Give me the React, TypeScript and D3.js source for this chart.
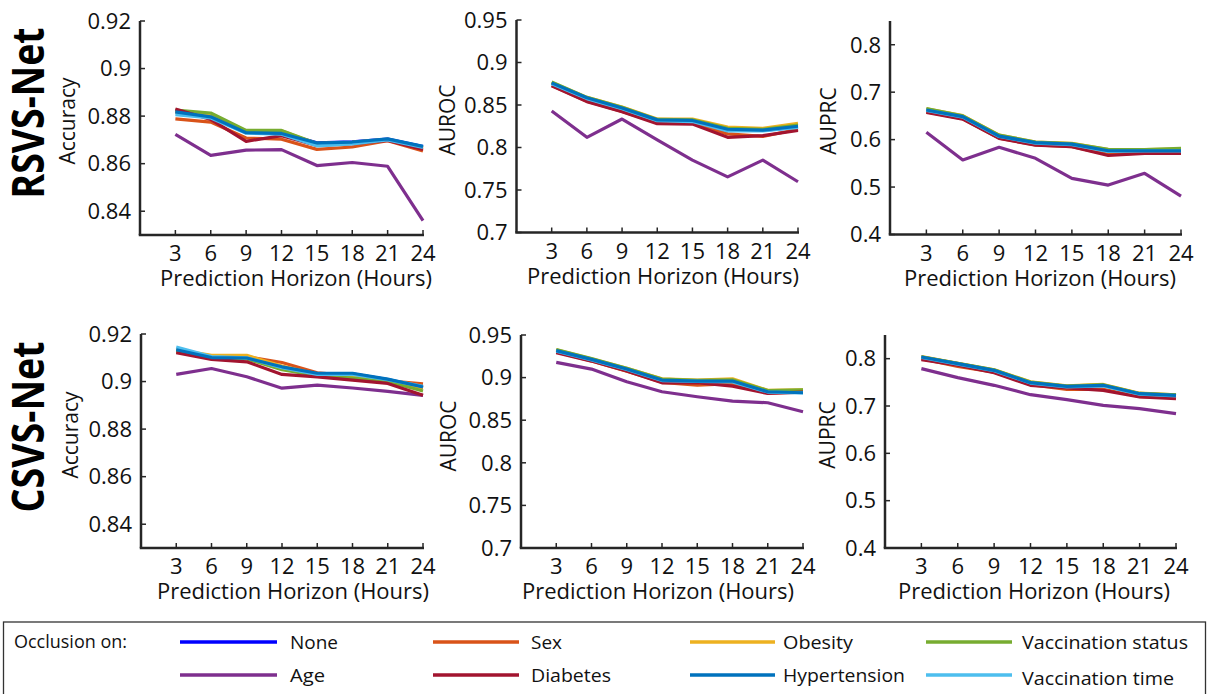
import React from "react";
import * as d3 from "d3";

// prediction horizons (hours)
const hours = [3, 6, 9, 12, 15, 18, 21, 24];

const occlusions = [
  "None",
  "Sex",
  "Obesity",
  "Vaccination status",
  "Age",
  "Diabetes",
  "Hypertension",
  "Vaccination time",
];
const colors = ["#0000ff", "#d95319", "#edb120", "#77ac30", "#7e2f8e", "#a2142f", "#0072bd", "#4dbeee"];
// hypertension ends up on top, like in the figure
const drawOrder = [0, 1, 2, 3, 4, 5, 7, 6];

// rows follow the occlusions order above
const rsvsAccuracy = [
  [0.882, 0.88, 0.8733, 0.873, 0.8688, 0.8692, 0.8703, 0.8672],
  [0.8788, 0.8775, 0.8708, 0.8703, 0.866, 0.867, 0.8697, 0.8653],
  [0.8815, 0.8805, 0.8738, 0.8738, 0.8683, 0.869, 0.8702, 0.8668],
  [0.8825, 0.8813, 0.874, 0.874, 0.8685, 0.869, 0.8701, 0.8667],
  [0.8723, 0.8635, 0.8657, 0.8659, 0.8592, 0.8605, 0.8589, 0.836],
  [0.883, 0.8786, 0.8694, 0.8718, 0.8677, 0.8684, 0.8698, 0.866],
  [0.8818, 0.8797, 0.873, 0.8727, 0.8687, 0.8691, 0.8704, 0.8673],
  [0.8806, 0.8792, 0.8728, 0.8724, 0.8675, 0.8683, 0.87, 0.8668],
];
const rsvsAuroc = [
  [0.8755, 0.858, 0.8462, 0.8322, 0.831, 0.8205, 0.82, 0.824],
  [0.873, 0.8545, 0.8425, 0.829, 0.8285, 0.816, 0.813, 0.8215],
  [0.8765, 0.859, 0.8475, 0.8335, 0.8335, 0.824, 0.8225, 0.8285],
  [0.877, 0.859, 0.8472, 0.833, 0.8325, 0.8225, 0.8215, 0.8265],
  [0.843, 0.812, 0.8335, 0.809, 0.7852, 0.7655, 0.7852, 0.7597],
  [0.8725, 0.854, 0.842, 0.828, 0.8275, 0.812, 0.814, 0.82],
  [0.876, 0.8585, 0.8465, 0.8325, 0.8318, 0.8215, 0.8205, 0.825],
  [0.875, 0.8575, 0.8455, 0.8315, 0.8305, 0.8195, 0.8195, 0.8235],
];
const rsvsAuprc = [
  [0.663, 0.649, 0.608, 0.5935, 0.5905, 0.577, 0.5765, 0.577],
  [0.6585, 0.644, 0.603, 0.589, 0.585, 0.569, 0.572, 0.572],
  [0.665, 0.6505, 0.6095, 0.595, 0.592, 0.579, 0.579, 0.58],
  [0.6655, 0.65, 0.6095, 0.5948, 0.5915, 0.5795, 0.579, 0.5815],
  [0.6155, 0.557, 0.5838, 0.5606, 0.5183, 0.5042, 0.5289, 0.481],
  [0.6575, 0.643, 0.6025, 0.5885, 0.585, 0.5665, 0.571, 0.571],
  [0.6625, 0.6485, 0.6075, 0.5935, 0.5905, 0.5765, 0.5765, 0.5765],
  [0.6615, 0.6475, 0.6065, 0.5925, 0.5895, 0.575, 0.576, 0.576],
];
const csvsAccuracy = [
  [0.9132, 0.91, 0.9098, 0.906, 0.9033, 0.9033, 0.9008, 0.8975],
  [0.9125, 0.9108, 0.9105, 0.908, 0.9037, 0.9025, 0.9003, 0.899],
  [0.9135, 0.911, 0.911, 0.9065, 0.903, 0.9022, 0.9005, 0.8972],
  [0.913, 0.9098, 0.9095, 0.905, 0.9025, 0.9015, 0.9, 0.896],
  [0.903, 0.9055, 0.902, 0.8972, 0.8985, 0.8973, 0.8959, 0.8942],
  [0.9121, 0.9093, 0.9083, 0.903, 0.902, 0.9006, 0.8992, 0.8942],
  [0.9134, 0.9101, 0.9099, 0.9062, 0.9035, 0.9035, 0.901, 0.8977],
  [0.9145, 0.9105, 0.91, 0.9058, 0.903, 0.903, 0.9008, 0.898],
];
const csvsAuroc = [
  [0.9318, 0.9215, 0.91, 0.8972, 0.896, 0.896, 0.8835, 0.8825],
  [0.93, 0.9195, 0.9075, 0.8945, 0.8912, 0.893, 0.882, 0.883],
  [0.9325, 0.922, 0.9108, 0.8985, 0.8972, 0.8985, 0.885, 0.8855],
  [0.933, 0.9225, 0.911, 0.8982, 0.8968, 0.8975, 0.8848, 0.8855],
  [0.9179, 0.91, 0.8951, 0.8834, 0.8775, 0.8724, 0.8705, 0.8599],
  [0.9292, 0.9194, 0.9077, 0.8939, 0.894, 0.89, 0.8814, 0.883],
  [0.9316, 0.9214, 0.91, 0.8971, 0.8959, 0.8959, 0.8834, 0.8822],
  [0.931, 0.9208, 0.9095, 0.8965, 0.8955, 0.895, 0.883, 0.882],
];
const csvsAuprc = [
  [0.8035, 0.7895, 0.7755, 0.7495, 0.7415, 0.7435, 0.726, 0.7225],
  [0.8, 0.7838, 0.7715, 0.745, 0.7352, 0.7355, 0.72, 0.718],
  [0.8045, 0.79, 0.7765, 0.751, 0.7425, 0.7455, 0.727, 0.7235],
  [0.804, 0.79, 0.7765, 0.7505, 0.742, 0.745, 0.7265, 0.7235],
  [0.7789, 0.7599, 0.7437, 0.7239, 0.7134, 0.7014, 0.6944, 0.6838],
  [0.7979, 0.786, 0.7704, 0.7437, 0.738, 0.7331, 0.719, 0.7155],
  [0.8035, 0.7894, 0.7754, 0.7493, 0.7415, 0.7437, 0.726, 0.7225],
  [0.8025, 0.7885, 0.7745, 0.7485, 0.7405, 0.7425, 0.725, 0.7215],
];

const accTicks = [0.84, 0.86, 0.88, 0.9, 0.92];
const aurocTicks = [0.7, 0.75, 0.8, 0.85, 0.9, 0.95];
const auprcTicks = [0.4, 0.5, 0.6, 0.7, 0.8];

const rowLabels = ["RSVS-Net", "CSVS-Net"];

const FONT = "'Open Sans', 'Noto Sans', sans-serif";
const AXIS = "#262626";

const panels = [
  { label: "Accuracy", data: rsvsAccuracy, domain: [0.83, 0.92], ticks: accTicks, x0: 140, x1: 423, top: 21, bot: 235, labX: 68, labY: 121, titleX: 296 },
  { label: "AUROC", data: rsvsAuroc, domain: [0.7, 0.95], ticks: aurocTicks, x0: 516.5, x1: 798, top: 20, bot: 232.5, labX: 448, labY: 120, titleX: 663 },
  { label: "AUPRC", data: rsvsAuprc, domain: [0.4, 0.85], ticks: auprcTicks, x0: 890, x1: 1181, top: 21, bot: 234.5, labX: 829, labY: 121, titleX: 1040 },
  { label: "Accuracy", data: csvsAccuracy, domain: [0.83, 0.92], ticks: accTicks, x0: 141, x1: 423, top: 334, bot: 548, labX: 71, labY: 435, titleX: 293 },
  { label: "AUROC", data: csvsAuroc, domain: [0.7, 0.95], ticks: aurocTicks, x0: 521, x1: 803, top: 335, bot: 548, labX: 449, labY: 436, titleX: 658 },
  { label: "AUPRC", data: csvsAuprc, domain: [0.4, 0.85], ticks: auprcTicks, x0: 885, x1: 1176, top: 335, bot: 548, labX: 828, labY: 435, titleX: 1034 },
];

const Panel = ({ p }) => {
  const x = d3.scaleLinear().domain([0, 24]).range([p.x0, p.x1]);
  const y = d3.scaleLinear().domain(p.domain).range([p.bot, p.top]);
  const line = d3
    .line<number>()
    .x((_, i) => x(hours[i]))
    .y((d) => y(d));

  return (
    <g>
      {drawOrder.map((k) => (
        <path
          key={k}
          d={line(p.data[k]) as string}
          fill="none"
          stroke={colors[k]}
          strokeWidth={3.2}
          strokeLinejoin="round"
        />
      ))}
      {/* axes */}
      <line x1={p.x0} x2={p.x0} y1={p.top} y2={p.bot} stroke={AXIS} strokeWidth={2.5} />
      <line x1={p.x0 - 1.25} x2={p.x1 + 1} y1={p.bot} y2={p.bot} stroke={AXIS} strokeWidth={2.5} />
      {p.ticks.map((t) => (
        <g key={t}>
          <line x1={p.x0} x2={p.x0 + 5} y1={y(t)} y2={y(t)} stroke={AXIS} strokeWidth={1.5} />
          <text x={p.x0 - 9} y={y(t) + 7.8} textAnchor="end" fontSize={22} fill="#111">
            {String(+t.toFixed(2))}
          </text>
        </g>
      ))}
      {hours.map((h) => (
        <g key={h}>
          <line x1={x(h)} x2={x(h)} y1={p.bot} y2={p.bot - 5} stroke={AXIS} strokeWidth={1.5} />
          <text x={x(h)} y={p.bot + 26} textAnchor="middle" fontSize={22} fill="#111">
            {h}
          </text>
        </g>
      ))}
      <text x={p.titleX} y={p.bot + 51} textAnchor="middle" fontSize={22} fill="#111">
        Prediction Horizon (Hours)
      </text>
      <text
        transform={`translate(${p.labX + 7},${p.labY}) rotate(-90)`}
        textAnchor="middle"
        fontSize={21}
        fill="#111"
      >
        {p.label}
      </text>
    </g>
  );
};

// legend layout: two rows of four
const legendLineX = [[180, 277], [433, 519], [690, 775], [926, 1012]];
const legendTextX = [290, 531, 783, 1022];
const legendRows = [642, 675];
const legendWidths = [48, 31, 70, 166, 35, 80, 122, 152];

export default function App() {
  return (
    <svg
      width={1210}
      height={694}
      style={{ position: "absolute", left: 0, top: 0, background: "#fff" }}
      fontFamily={FONT}
    >
      <rect width={1210} height={694} fill="#fff" />
      {rowLabels.map((r, i) => (
        <text
          key={r}
          transform={`translate(${44},${i === 0 ? 113 : 427}) rotate(-90)`}
          textAnchor="middle"
          fontSize={44}
          fontWeight="bold"
          textLength={171}
          lengthAdjust="spacingAndGlyphs"
          fill="#000"
        >
          {r}
        </text>
      ))}
      {panels.map((p, i) => (
        <Panel key={i} p={p} />
      ))}

      {/* legend */}
      <rect x={3.5} y={622} width={1202} height={80} fill="none" stroke="#333" strokeWidth={1.3} />
      <text x={14} y={648} fontSize={19} textLength={113} lengthAdjust="spacingAndGlyphs" fill="#111">
        Occlusion on:
      </text>
      {occlusions.map((name, k) => {
        const col = k % 4;
        const row = Math.floor(k / 4);
        const [la, lb] = legendLineX[col];
        const ly = legendRows[row];
        return (
          <g key={name}>
            <line x1={la} x2={lb} y1={ly} y2={ly} stroke={colors[k]} strokeWidth={3.5} />
            <text
              x={legendTextX[col]}
              y={ly + 6.5 + (k === 7 ? 3 : 0)}
              fontSize={19}
              textLength={legendWidths[k]}
              lengthAdjust="spacingAndGlyphs"
              fill="#111"
            >
              {name}
            </text>
          </g>
        );
      })}
    </svg>
  );
}
